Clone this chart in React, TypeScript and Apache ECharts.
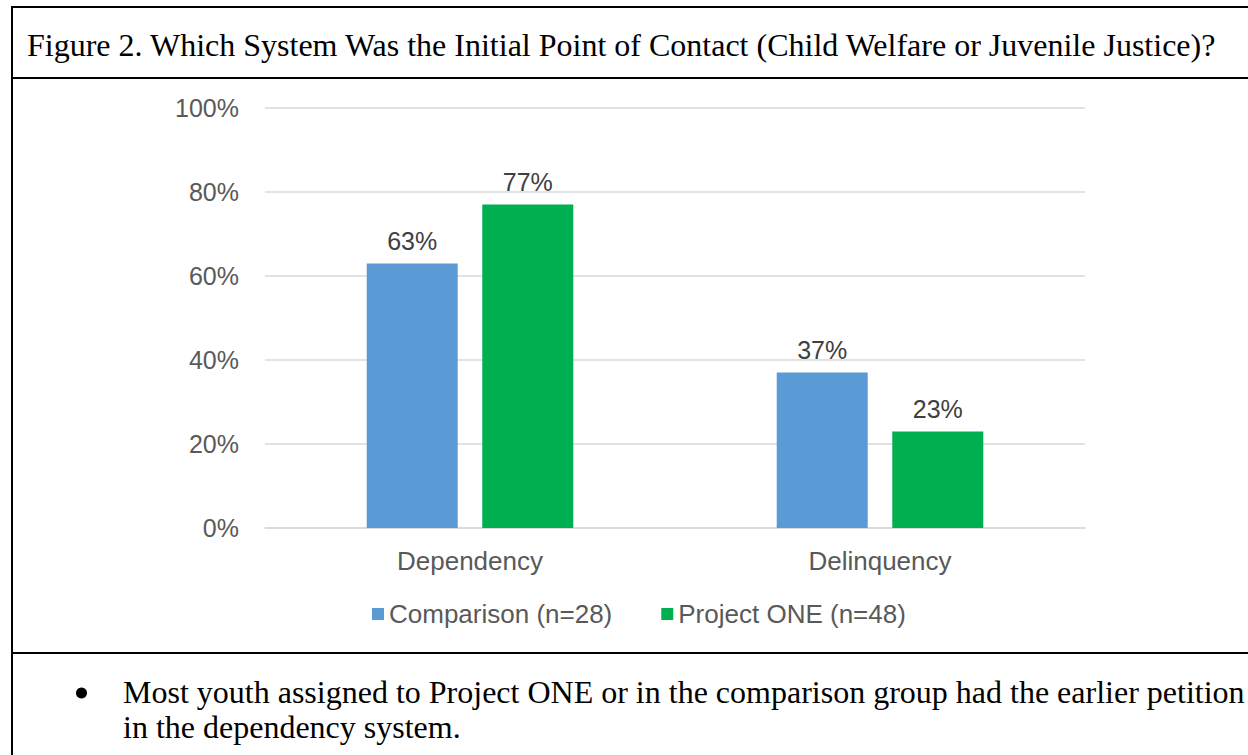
import React, { useEffect, useRef } from "react";
import * as echarts from "echarts";

const categories = ["Dependency", "Delinquency"];
const comparison = [63, 37];
const projectOne = [77, 23];
const seriesNames = ["Comparison (n=28)", "Project ONE (n=48)"];
const titleText =
  "Figure 2. Which System Was the Initial Point of Contact (Child Welfare or Juvenile Justice)?";
const bulletLine1 =
  "Most youth assigned to Project ONE or in the comparison group had the earlier petition";
const bulletLine2 = "in the dependency system.";

export default function App() {
  const ref = useRef<HTMLDivElement>(null);
  useEffect(() => {
    document.body.style.margin = "0";
    const chart = echarts.init(ref.current!, null, { renderer: "svg" });
    const sans = "Liberation Sans, Arial, sans-serif";
    const serif = "Liberation Serif, Times New Roman, serif";
    const labelCfg = {
      show: true,
      position: "top",
      distance: 10,
      formatter: "{c}%",
      fontFamily: sans,
      fontSize: 25,
      color: "#404040",
    };
    chart.setOption({
      animation: false,
      backgroundColor: "#ffffff",
      grid: { left: 265, right: 163, top: 108, bottom: 227 },
      legend: {
        data: seriesNames,
        left: 367,
        top: 596,
        icon: "rect",
        itemWidth: 12,
        itemHeight: 12,
        itemGap: 49,
        textStyle: { fontFamily: sans, fontSize: 26, color: "#595959" },
      },
      xAxis: {
        type: "category",
        data: categories,
        axisLine: { lineStyle: { color: "#D9D9D9", width: 1.5 } },
        axisTick: { show: false },
        axisLabel: { fontFamily: sans, fontSize: 26, color: "#595959", margin: 20 },
      },
      yAxis: {
        type: "value",
        min: 0,
        max: 100,
        interval: 20,
        axisLine: { show: false },
        axisTick: { show: false },
        splitLine: { lineStyle: { color: "#D9D9D9", width: 1.5 } },
        axisLabel: {
          fontFamily: sans,
          fontSize: 25,
          color: "#595959",
          margin: 26,
          formatter: (v: number) => v + "%",
        },
      },
      series: [
        {
          name: seriesNames[0],
          type: "bar",
          data: comparison,
          barWidth: 91,
          barGap: "27%",
          itemStyle: { color: "#5B9BD5" },
          label: labelCfg,
        },
        {
          name: seriesNames[1],
          type: "bar",
          data: projectOne,
          barWidth: 91,
          barGap: "27%",
          itemStyle: { color: "#00B050" },
          label: labelCfg,
        },
      ],
      graphic: [
        { type: "line", shape: { x1: 12, y1: 6, x2: 12, y2: 755 }, style: { stroke: "#000", lineWidth: 2 } },
        { type: "line", shape: { x1: 11, y1: 7, x2: 1248, y2: 7 }, style: { stroke: "#000", lineWidth: 2 } },
        { type: "line", shape: { x1: 11, y1: 78, x2: 1248, y2: 78 }, style: { stroke: "#000", lineWidth: 2 } },
        { type: "line", shape: { x1: 11, y1: 653, x2: 1248, y2: 653 }, style: { stroke: "#000", lineWidth: 2 } },
        {
          type: "text",
          x: 27,
          y: 45,
          style: { text: titleText, font: `32px ${serif}`, fill: "#000", verticalAlign: "middle" },
        },
        {
          type: "circle",
          shape: { cx: 81.5, cy: 693, r: 5.5 },
          style: { fill: "#000" },
        },
        {
          type: "text",
          x: 123,
          y: 692,
          style: { text: bulletLine1, font: `32px ${serif}`, fill: "#000", verticalAlign: "middle" },
        },
        {
          type: "text",
          x: 123,
          y: 727,
          style: { text: bulletLine2, font: `32px ${serif}`, fill: "#000", verticalAlign: "middle" },
        },
      ],
    });
    return () => chart.dispose();
  }, []);
  return <div ref={ref} style={{ width: 1248, height: 755 }} />;
}
